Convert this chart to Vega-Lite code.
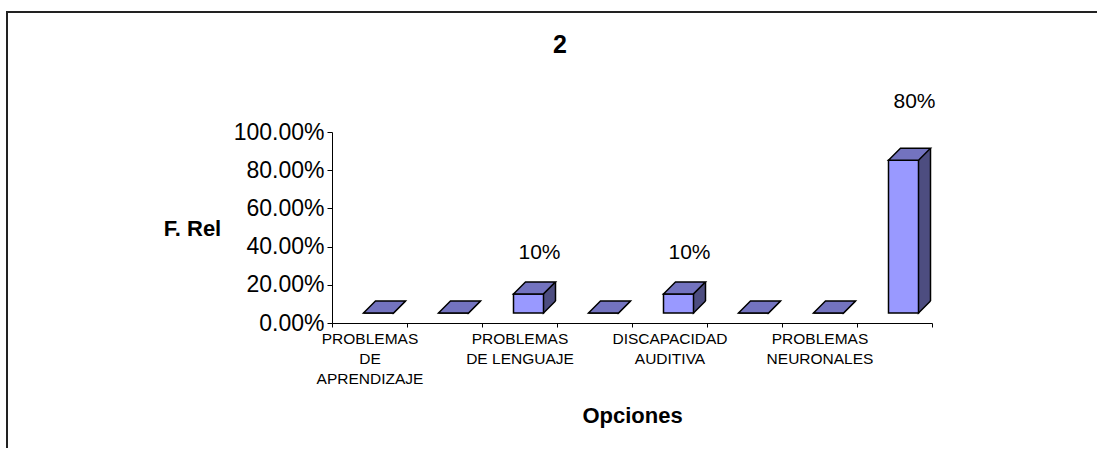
{
  "$schema": "https://vega.github.io/schema/vega-lite/v6.json",
  "autosize": {"type": "none"},
  "padding": {"left": 7, "top": 12, "right": -21, "bottom": -31},
  "width": 1115,
  "height": 467,
  "background": "white",
  "title": {"text": "2", "font": "Liberation Sans", "fontSize": 25, "fontWeight": "bold", "color": "black", "anchor": "middle", "frame": "group", "baseline": "middle", "offset": 0, "dx": -4.5, "dy": 58},
  "data": {"values": [
    {"opcion": "PROBLEMAS DE APRENDIZAJE", "frel": 0},
    {"opcion": "PROBLEMAS DE CONDUCTA", "frel": 0},
    {"opcion": "PROBLEMAS DE LENGUAJE", "frel": 0.1},
    {"opcion": "DISCAPACIDAD VISUAL", "frel": 0},
    {"opcion": "DISCAPACIDAD AUDITIVA", "frel": 0.1},
    {"opcion": "DISCAPACIDAD MOTORA", "frel": 0},
    {"opcion": "PROBLEMAS NEURONALES", "frel": 0},
    {"opcion": "NINGUNO", "frel": 0.8}
  ]},
  "encoding": {
    "x": {
      "field": "opcion", "type": "nominal", "sort": null,
      "scale": {"range": [325, 925], "paddingInner": 0, "paddingOuter": 0},
      "axis": {
        "title": "Opciones", "orient": "bottom", "offset": -156, "tickBand": "extent",
        "labelAngle": 0, "labelLimit": 0, "labelOverlap": false,
        "labelExpr": "datum.label == 'PROBLEMAS DE APRENDIZAJE' ? ['PROBLEMAS','DE','APRENDIZAJE'] : datum.label == 'PROBLEMAS DE LENGUAJE' ? ['PROBLEMAS','DE LENGUAJE'] : datum.label == 'DISCAPACIDAD AUDITIVA' ? ['DISCAPACIDAD','AUDITIVA'] : datum.label == 'PROBLEMAS NEURONALES' ? ['PROBLEMAS','NEURONALES'] : ''",
        "labelFont": "Liberation Sans", "labelFontSize": 15.5, "labelLineHeight": 20, "labelColor": "black",
        "labelPadding": 4, "tickSize": 4, "tickColor": "black", "domainColor": "black", "tickWidth": 1, "domainWidth": 1,
        "titleFont": "Liberation Sans", "titleFontSize": 22, "titleFontWeight": "bold", "titleColor": "black",
        "titleX": 625, "titleY": 92, "titleAlign": "center", "titleBaseline": "middle", "titleAngle": 0
      }
    }
  },
  "layer": [
    {
      "layer": [
        {
          "mark": {"type": "bar", "width": 12, "xOffset": 30, "yOffset": -22, "y2Offset": -22, "fill": "#4d4d80", "strokeWidth": 0},
          "encoding": {
            "y": {
              "field": "frel", "type": "quantitative",
              "scale": {"domain": [0, 1], "range": [311, 120], "nice": false},
              "axis": {
                "title": "F. Rel", "format": ".2%", "values": [0, 0.2, 0.4, 0.6, 0.8, 1], "offset": -325, "grid": false,
                "labelFont": "Liberation Sans", "labelFontSize": 23, "labelColor": "black", "labelPadding": 3,
                "tickSize": 5, "tickColor": "black", "domainColor": "black", "tickWidth": 1, "domainWidth": 1,
                "titleFont": "Liberation Sans", "titleFontSize": 22, "titleFontWeight": "bold", "titleColor": "black",
                "titleAngle": 0, "titleX": -140, "titleY": 216, "titleAlign": "center", "titleBaseline": "middle"
              }
            },
            "y2": {"datum": 0}
          }
        },
        {
          "mark": {"type": "point", "shape": "M36,-22 L24,-10 L24,-22 Z", "size": 4, "filled": true, "fill": "#4d4d80", "stroke": "black", "strokeWidth": 1.5, "strokeDash": [17, 40], "opacity": 1},
          "encoding": {"y": {"datum": 0, "type": "quantitative"}}
        },
        {
          "mark": {"type": "rule", "xOffset": 36, "yOffset": -22, "y2Offset": -22, "stroke": "black", "strokeWidth": 1.5},
          "encoding": {"y": {"field": "frel", "type": "quantitative"}, "y2": {"datum": 0}}
        },
        {
          "mark": {"type": "bar", "width": 30, "xOffset": 9, "yOffset": -10, "y2Offset": -10, "fill": "#9999ff", "stroke": "black", "strokeWidth": 1.5},
          "encoding": {"y": {"field": "frel", "type": "quantitative"}, "y2": {"datum": 0}}
        },
        {
          "mark": {"type": "point", "shape": "M-6,-10 L24,-10 L36,-22 L6,-22 Z", "size": 4, "filled": true, "fill": "#7373bf", "stroke": "black", "strokeWidth": 1.5, "opacity": 1},
          "encoding": {"y": {"field": "frel", "type": "quantitative"}}
        }
      ]
    },
    {
      "transform": [{"filter": "datum.frel > 0"}],
      "mark": {"type": "text", "dx": 20, "font": "Liberation Sans", "fontSize": 21, "color": "black", "baseline": "middle"},
      "encoding": {
        "y": {"field": "frel", "type": "quantitative", "scale": {"domain": [0, 1], "range": [263, 47], "nice": false}, "axis": null},
        "text": {"field": "frel", "type": "quantitative", "format": ".0%"}
      }
    }
  ],
  "resolve": {"scale": {"y": "independent"}},
  "config": {"view": {"stroke": "#222222", "strokeWidth": 2}}
}
